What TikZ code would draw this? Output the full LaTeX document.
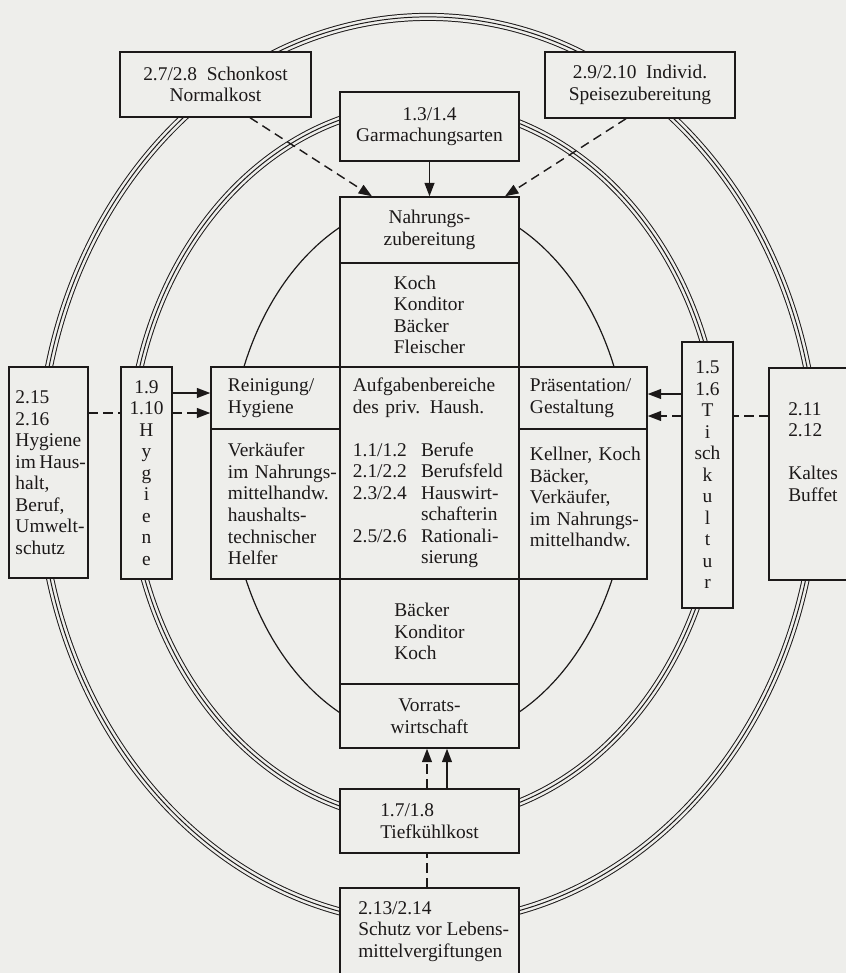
\documentclass[tikz,border=0pt]{standalone}
\usepackage{fontspec}
\setmainfont{Liberation Serif}
\usetikzlibrary{arrows.meta}
\definecolor{paper}{RGB}{238,238,235}
\definecolor{ink}{RGB}{28,25,25}
\newcommand\diafont{\fontsize{13.8}{15.3}\selectfont}
\newcommand\nrcol[1]{\makebox[1.7cm][l]{#1}}

\begin{document}
\begin{tikzpicture}[
		x=0.025cm, y=-0.025cm,
		box/.style={draw=ink, line width=1pt, fill=paper, inner sep=0pt, font=\diafont, text=ink},
		txt/.style={inner sep=0pt, font=\diafont, text=ink},
		triple/.style={draw=ink, line width=0.7pt, preaction={draw=ink, line width=0.7pt, double=paper, double distance=4.3pt}},
		ring/.style={draw=ink, line width=0.85pt},
		arr/.style={-{Triangle[length=9.5pt,width=7pt]}, line width=1pt, draw=ink},
		darr/.style={arr, dash pattern=on 6.5pt off 4pt},
		dline/.style={line width=1pt, draw=ink, dash pattern=on 6.5pt off 4pt}
		]
		
		\useasboundingbox (0,0) rectangle (846,973);
		\fill[paper] (0,0) rectangle (846,973);
		\clip (0,0) rectangle (846,973);
		
		\draw[triple] (428,470) ellipse [x radius=9.725cm, y radius=11.325cm];
		\draw[triple] (425,463) ellipse [x radius=7.4cm, y radius=8.95cm];
		\draw[ring] (429,470) ellipse [x radius=5cm, y radius=6.775cm];
		
		\node[box, minimum width=4.775cm, minimum height=1.625cm, align=center] (schon) at (215.5,84.5) {2.7/2.8\enspace Schonkost\\Normalkost};
		\node[box, minimum width=4.75cm, minimum height=1.65cm, align=center] (indiv) at (640,85) {2.9/2.10\enspace Individ.\\Speisezubereitung};
		\node[box, minimum width=4.475cm, minimum height=1.725cm, align=center] (garm) at (429.5,126.5) {1.3/1.4\\Garmachungsarten};
		\node[box, minimum width=4.475cm, minimum height=1.65cm, align=center] (nahr) at (429.5,230) {Nahrungs-\\zubereitung};
		\node[box, minimum width=4.475cm, minimum height=2.6cm, align=left] (beruf1) at (429.5,315) {Koch\\Konditor\\Bäcker\\Fleischer};
		
		\node[box, minimum width=3.225cm, minimum height=1.55cm, text width=2.375cm, align=left] (rein) at (275.5,398) {Reinigung/\\Hygiene};
		\node[box, minimum width=3.225cm, minimum height=3.75cm, text width=2.375cm, align=left] (verk) at (275.5,504) {Verkäufer\\\mbox{im Nahrungs-}\\mittelhandw.\\\mbox{haushalts-}\\technischer\\Helfer};
		\node[box, minimum width=4.475cm, minimum height=5.3cm, text width=3.825cm, align=left] (aufg) at (429.5,473) {Aufgabenbereiche\\des priv. Haush.\\[\baselineskip]\nrcol{1.1/1.2}Berufe\\\nrcol{2.1/2.2}Berufsfeld\\\nrcol{2.3/2.4}\mbox{Hauswirt-}\\\nrcol{}schafterin\\\nrcol{2.5/2.6}\mbox{Rationali-}\\\nrcol{}sierung};
		\node[box, minimum width=3.2cm, minimum height=1.55cm, text width=2.65cm, align=left] (praes) at (583,398) {Präsentation/\\Gestaltung};
		\node[box, minimum width=3.2cm, minimum height=3.75cm, text width=2.65cm, align=left] (kell) at (583,504) {\mbox{Kellner, Koch}\\Bäcker,\\Verkäufer,\\\mbox{im Nahrungs-}\\mittelhandw.\\[-0.35\baselineskip]\mbox{}};
		
		\node[box, minimum width=4.475cm, minimum height=2.625cm, align=left] (beruf2) at (429.5,631.5) {Bäcker\\Konditor\\Koch};
		\node[box, minimum width=4.475cm, minimum height=1.6cm, align=center] (vorr) at (429.5,716) {Vorrats-\\wirtschaft};
		\node[box, minimum width=4.475cm, minimum height=1.6cm, align=left] (tief) at (429.5,821) {1.7/1.8\\Tiefkühlkost};
		\node[box, minimum width=4.475cm, minimum height=2.55cm] (schutz) at (429.5,939) {};
		\node[txt, anchor=north west, align=left] (schutztxt) at (358,901) {2.13/2.14\\\mbox{Schutz vor Lebens-}\\mittelvergiftungen};
		
		\node[box, minimum width=1.975cm, minimum height=5.275cm, text width=1.65cm, align=left] (hyg2) at (48.5,472.5) {2.15\\2.16\\Hygiene\\\mbox{im\hspace{0.18em}Haus-}\\halt,\\Beruf,\\\mbox{Umwelt-}\\schutz};
		\node[box, minimum width=1.275cm, minimum height=5.3cm, align=center] (hyg1) at (146.5,473) {1.9\\1.10\\H\\y\\g\\i\\e\\n\\e};
		\node[box, minimum width=1.275cm, minimum height=6.65cm, align=center] (tisch) at (707.5,475) {1.5\\1.6\\T\\i\\sch\\k\\u\\l\\t\\u\\r};
		\node[box, minimum width=2.525cm, minimum height=5.3cm] (kalt) at (819.5,474) {};
		\node[txt, anchor=north west, align=left] (kalttxt) at (788,402) {2.11\\2.12\\[\baselineskip]Kaltes\\Buffet};
		
		\draw[arr] (garm) -- (nahr);
		\draw[darr] ([xshift=0.8625cm]schon.south) -- ([xshift=-1.4375cm]nahr.north);
		\draw[darr] ([xshift=-0.35cm]indiv.south) -- ([xshift=1.8875cm]nahr.north);
		
		\draw[arr] (hyg1.east |- 0,393) -- (rein.west |- 0,393);
		\draw[darr] (hyg1.east |- 0,413) -- (rein.west |- 0,413);
		\draw[dline] (hyg2.east |- 0,413) -- (hyg1.west |- 0,413);
		\draw[arr] (tisch.west |- 0,394) -- (praes.east |- 0,394);
		\draw[darr] (tisch.west |- 0,416) -- (praes.east |- 0,416);
		\draw[dline] (kalt.west |- 0,416) -- (tisch.east |- 0,416);
		
		\draw[darr] (tief.north -| 427,0) -- (vorr.south -| 427,0);
		\draw[arr] (tief.north -| 447,0) -- (vorr.south -| 447,0);
		\draw[dline] (schutz.north -| 427,0) -- (tief.south -| 427,0);
		
	\end{tikzpicture}
\end{document}
